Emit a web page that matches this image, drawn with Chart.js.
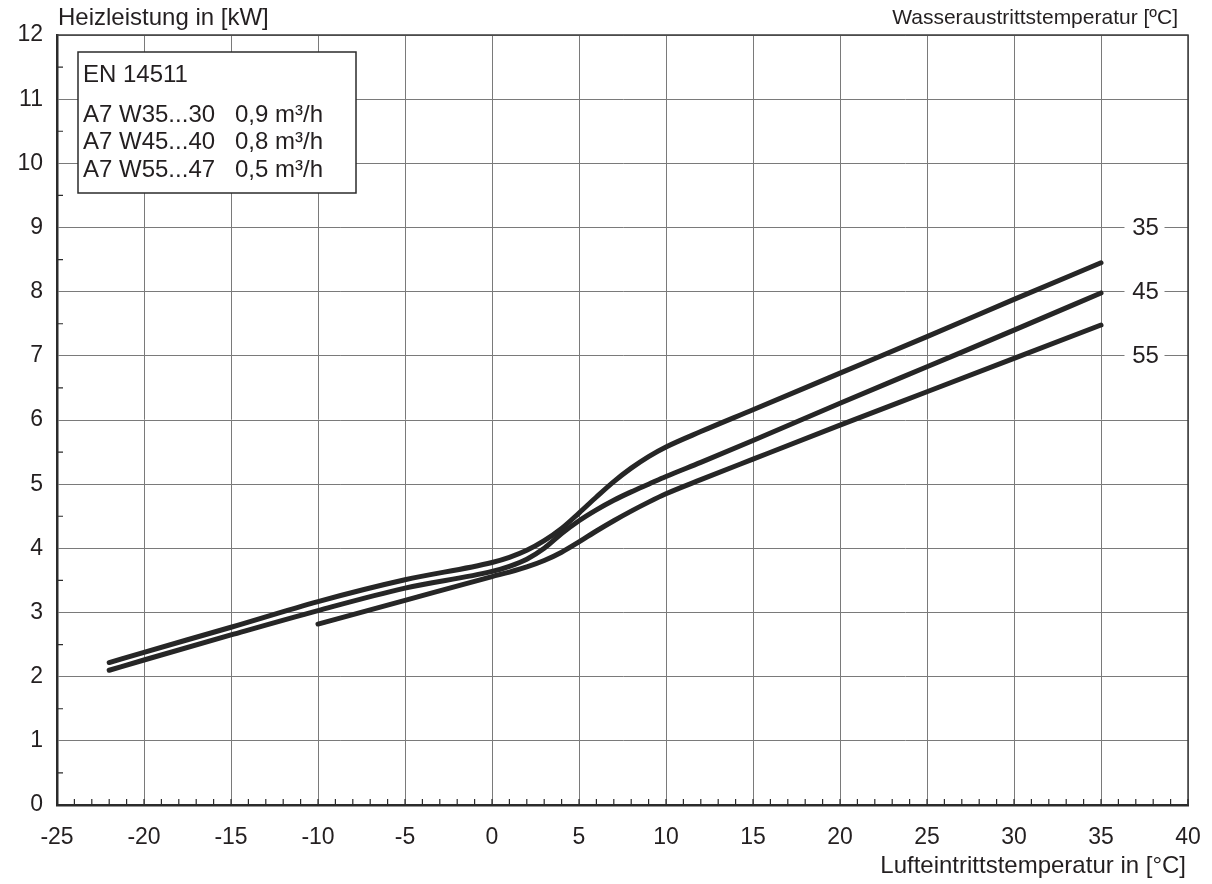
<!DOCTYPE html>
<html>
<head>
<meta charset="utf-8" />
<title>Heizleistung</title>
<style>
  html, body { margin: 0; padding: 0; background: #fff; }
  canvas { display: block; }
</style>
</head>
<body>
<canvas id="heatChart" width="1212" height="884"></canvas>
<script src="https://cdn.jsdelivr.net/npm/chart.js@4.4.1/dist/chart.umd.min.js"></script>
<script>
// Lufteintrittstemperatur [°C] -> Heizleistung [kW]
const airTemp = [-22, -20, -15, -10, -5, 0, 1, 2, 3, 4, 5, 6, 7, 8, 9, 10, 12, 15, 20, 25, 30, 35];
const heatW35 = [2.22, 2.38, 2.77, 3.17, 3.51, 3.78, 3.86, 3.97, 4.12, 4.31, 4.55, 4.80, 5.04, 5.25, 5.43, 5.58, 5.82, 6.16, 6.73, 7.30, 7.88, 8.45];
const heatW45 = [2.10, 2.26, 2.65, 3.03, 3.38, 3.64, 3.72, 3.83, 4.00, 4.23, 4.43, 4.60, 4.75, 4.88, 5.00, 5.12, 5.34, 5.68, 6.26, 6.83, 7.40, 7.98];
const airTempW55 = [-10, -5, 0, 1, 2, 3, 4, 5, 6, 7, 8, 9, 10, 12, 15, 20, 25, 30, 35];
const heatW55 = [2.82, 3.19, 3.56, 3.63, 3.71, 3.81, 3.94, 4.10, 4.27, 4.43, 4.58, 4.72, 4.85, 5.07, 5.39, 5.92, 6.44, 6.96, 7.48];

// labels at the right edge (Wasseraustrittstemperatur)
const seriesNames = ['35', '45', '55'];
const seriesLabelY = [9, 8, 7];

const legendTitle = 'EN 14511';
const legendRows = ['A7 W35...30', 'A7 W45...40', 'A7 W55...47'];
const legendFlow = ['0,9 m³/h', '0,8 m³/h', '0,5 m³/h'];

const FONT = "'Liberation Sans', Arial, Helvetica, sans-serif";
const INK = '#231f20';
const LINE = '#262626';

function toPoints(xs, ys) {
  return xs.map((t, i) => ({ x: t, y: ys[i] }));
}

function lineSet(name, xs, ys) {
  return {
    label: name,
    data: toPoints(xs, ys),
    borderColor: LINE,
    borderWidth: 5,
    borderCapStyle: 'round',
    borderJoinStyle: 'round',
    pointRadius: 0,
    cubicInterpolationMode: 'monotone',
    fill: false
  };
}

const decor = {
  id: 'decor',
  afterDraw(chart) {
    const { ctx, chartArea: a, scales: { x, y } } = chart;
    ctx.save();

    // top + right frame
    ctx.strokeStyle = '#3c3c3c';
    ctx.lineWidth = 1.5;
    ctx.beginPath();
    ctx.moveTo(a.left, a.top);
    ctx.lineTo(a.right, a.top);
    ctx.lineTo(a.right, a.bottom);
    ctx.stroke();

    // inward ticks
    ctx.strokeStyle = '#2b2b2b';
    ctx.lineWidth = 1.2;
    ctx.beginPath();
    for (let v = x.min; v <= x.max; v += 1) {
      const px = x.getPixelForValue(v);
      ctx.moveTo(px, a.bottom);
      ctx.lineTo(px, a.bottom - 6);
    }
    for (let v = y.min + 0.5; v < y.max; v += 1) {
      const py = y.getPixelForValue(v);
      ctx.moveTo(a.left, py);
      ctx.lineTo(a.left + 6, py);
    }
    ctx.stroke();

    // series labels with white patch over the grid
    ctx.font = '24px ' + FONT;
    ctx.textAlign = 'center';
    ctx.textBaseline = 'middle';
    seriesNames.forEach((s, i) => {
      const px = x.getPixelForValue(37.5);
      const py = y.getPixelForValue(seriesLabelY[i]);
      ctx.fillStyle = '#fff';
      ctx.fillRect(px - 20, py - 13, 40, 26);
      ctx.fillStyle = INK;
      ctx.fillText(s, px + 1, py + 1);
    });

    // legend box
    const bx = a.left + 21, by = a.top + 17, bw = 278, bh = 141;
    ctx.fillStyle = '#fff';
    ctx.fillRect(bx, by, bw, bh);
    ctx.strokeStyle = '#2b2b2b';
    ctx.lineWidth = 1.5;
    ctx.strokeRect(bx, by, bw, bh);
    ctx.fillStyle = INK;
    ctx.textAlign = 'left';
    ctx.font = '24px ' + FONT;
    ctx.fillText(legendTitle, bx + 5, by + 23);
    legendRows.forEach((r, i) => {
      const ty = by + 63 + i * 27.5;
      ctx.fillText(r, bx + 5, ty);
      ctx.fillText(legendFlow[i], bx + 157, ty);
    });

    // axis titles
    ctx.font = '24px ' + FONT;
    ctx.textAlign = 'left';
    ctx.fillText('Heizleistung in [kW]', a.left + 1, 18);
    ctx.textAlign = 'right';
    ctx.fillText('Lufteintrittstemperatur in [°C]', a.right - 2, 866);
    ctx.font = '21px ' + FONT;
    ctx.fillText('Wasseraustrittstemperatur [ºC]', a.right - 10, 18);

    ctx.restore();
  }
};

new Chart(document.getElementById('heatChart'), {
  type: 'line',
  data: {
    datasets: [
      lineSet('W35', airTemp, heatW35),
      lineSet('W45', airTemp, heatW45),
      lineSet('W55', airTempW55, heatW55)
    ]
  },
  options: {
    responsive: false,
    animation: false,
    layout: { padding: { top: 35, right: 24, left: 0, bottom: 0 } },
    plugins: {
      legend: { display: false },
      tooltip: { enabled: false }
    },
    scales: {
      x: {
        type: 'linear',
        min: -25,
        max: 40,
        ticks: { stepSize: 5, color: INK, font: { family: FONT, size: 23 }, padding: 19, maxRotation: 0 },
        grid: { color: '#7a7a7a', lineWidth: 1, drawTicks: false },
        border: { color: '#2b2b2b', width: 2.5 },
        afterFit(s) { s.height = 79; s.paddingLeft = 0; s.paddingRight = 0; }
      },
      y: {
        min: 0,
        max: 12,
        ticks: { stepSize: 1, color: INK, font: { family: FONT, size: 23 }, padding: 14 },
        grid: { color: '#7a7a7a', lineWidth: 1, drawTicks: false },
        border: { color: '#2b2b2b', width: 2.5 },
        afterFit(s) { s.width = 57; s.paddingTop = 0; s.paddingBottom = 0; }
      }
    }
  },
  plugins: [decor]
});
</script>
</body>
</html>
